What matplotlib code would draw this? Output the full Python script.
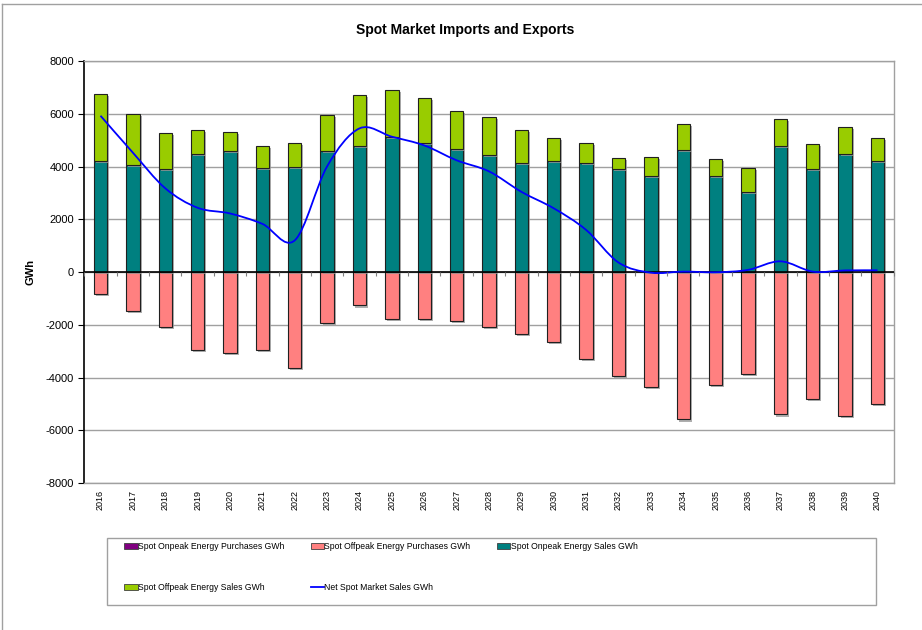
import numpy as np
import matplotlib
matplotlib.use('Agg')
import matplotlib.pyplot as plt
from matplotlib.path import Path
from matplotlib.patches import PathPatch, Rectangle
from matplotlib.lines import Line2D
import matplotlib.patheffects as pe

plt.rcParams['font.family'] = ['Liberation Sans', 'DejaVu Sans']
plt.rcParams['axes.unicode_minus'] = False

years = [str(y) for y in range(2016, 2041)]
onpeak_purchases = [0] * 25
offpeak_purchases = [-825, -1460, -2090, -2940, -3080, -2955, -3625, -1940, -1270, -1765,
                     -1790, -1865, -2080, -2360, -2660, -3285, -3955, -4375, -5590, -4300,
                     -3855, -5400, -4830, -5455, -5020]
onpeak_sales = [4200, 4050, 3920, 4465, 4580, 3935, 3970, 4580, 4795, 5110,
                4880, 4670, 4430, 4150, 4225, 4125, 3920, 3630, 4630, 3655,
                3025, 4770, 3920, 4465, 4200]
offpeak_sales = [2550, 1935, 1345, 910, 720, 845, 910, 1365, 1920, 1785,
                 1710, 1430, 1465, 1250, 850, 755, 395, 720, 975, 635,
                 910, 1035, 925, 1050, 885]
net_sales = [5925, 4525, 3175, 2435, 2220, 1825, 1200, 4005, 5445, 5130,
             4800, 4235, 3815, 3040, 2415, 1595, 360, -25, 15, -10,
             80, 405, 15, 60, 65]

c_purple = '#800080'
c_salmon = '#FF8080'
c_teal = '#008080'
c_green = '#99CC00'
c_blue = '#0000FF'

fig = plt.figure(figsize=(9.22, 6.30), dpi=100)
ax = fig.add_axes([84.3 / 922, 1 - 483 / 630, (893.7 - 84.3) / 922, (483 - 61) / 630])

x = np.arange(len(years))
w = 0.41
shadow = [pe.SimplePatchShadow(offset=(1.5, -1.5), shadow_rgbFace='#9a9a9a', alpha=0.8), pe.Normal()]
edge = dict(edgecolor='#202020', linewidth=0.8, zorder=3)

ax.bar(x, onpeak_purchases, w, color=c_purple, **edge)
b1 = ax.bar(x, offpeak_purchases, w, color=c_salmon, **edge)
b2 = ax.bar(x, onpeak_sales, w, color=c_teal, **edge)
b3 = ax.bar(x, offpeak_sales, w, bottom=onpeak_sales, color=c_green, **edge)
for cont in (b1, b2, b3):
    for p in cont:
        p.set_path_effects(shadow)

# smoothed line (Excel-style), Catmull-Rom through the data points
pts = np.column_stack([x, net_sales]).astype(float)
ext = np.vstack([pts[0], pts, pts[-1]])
verts = [pts[0]]
codes = [Path.MOVETO]
for i in range(1, len(ext) - 2):
    p0, p1, p2, p3 = ext[i - 1], ext[i], ext[i + 1], ext[i + 2]
    verts += [p1 + (p2 - p0) / 6, p2 - (p3 - p1) / 6, p2]
    codes += [Path.CURVE4] * 3
ax.add_patch(PathPatch(Path(verts, codes), facecolor='none', edgecolor=c_blue,
                       linewidth=1.3, zorder=5))

ax.set_xlim(-0.5, len(years) - 0.5)
ax.set_ylim(-8000, 8000)
ax.set_yticks(range(-8000, 8001, 2000))
ax.yaxis.grid(True, color='#a0a0a0', linewidth=1)
ax.set_axisbelow(True)
ax.axhline(0, color='black', linewidth=1.2, zorder=4)
ax.set_xticks(x)
ax.set_xticklabels(years, rotation=90, fontsize=6.5)
ax.tick_params(axis='x', length=0, pad=5)
ax.tick_params(axis='y', labelsize=8, length=4, color='black')
for s in ('top', 'right', 'bottom'):
    ax.spines[s].set_color('#a0a0a0')
    ax.spines[s].set_linewidth(1)
ax.spines['left'].set_color('black')
ax.spines['left'].set_linewidth(1.2)
ax.set_ylabel('GWh', fontsize=8, fontweight='bold', labelpad=7)

# category ticks on the zero line
ax2 = ax.twiny()
ax2.set_xlim(ax.get_xlim())
ax2.xaxis.set_ticks_position('bottom')
ax2.spines['bottom'].set_position(('data', 0))
ax2.set_xticks(np.arange(-0.5, len(years), 1))
ax2.set_xticklabels([])
ax2.tick_params(axis='x', length=3, color='#808080', direction='out')
for s in ax2.spines.values():
    s.set_visible(False)

fig.text(0.504, 1 - 30 / 630, 'Spot Market Imports and Exports', ha='center', va='center',
         fontsize=10, fontweight='bold')

# outer chart border (left and top visible)
fig.add_artist(Line2D([2 / 922, 2 / 922], [0, 1 - 4 / 630], color='#a0a0a0', linewidth=1))
fig.add_artist(Line2D([2 / 922, 1], [1 - 4 / 630, 1 - 4 / 630], color='#a0a0a0', linewidth=1))

# legend box
fig.add_artist(Rectangle((106.7 / 922, 1 - 605 / 630), (876 - 106.7) / 922, 67 / 630,
                         transform=fig.transFigure, facecolor='white', edgecolor='#a0a0a0',
                         linewidth=1))
handles = [
    Rectangle((0, 0), 1, 1, facecolor=c_purple, edgecolor='#404040', linewidth=0.6),
    Rectangle((0, 0), 1, 1, facecolor=c_salmon, edgecolor='#404040', linewidth=0.6),
    Rectangle((0, 0), 1, 1, facecolor=c_teal, edgecolor='#404040', linewidth=0.6),
    Rectangle((0, 0), 1, 1, facecolor=c_green, edgecolor='#404040', linewidth=0.6),
    Line2D([0], [0], color=c_blue, linewidth=1.3),
]
labels = ['Spot Onpeak Energy Purchases GWh', 'Spot Offpeak Energy Purchases GWh',
          'Spot Onpeak Energy Sales GWh', 'Spot Offpeak Energy Sales GWh',
          'Net Spot Market Sales GWh']
order = [0, 3, 1, 4, 2]  # legend fills by column; this gives row-wise order
fig.legend([handles[i] for i in order], [labels[i] for i in order], ncol=3, loc='upper left',
           bbox_to_anchor=(120 / 922, 1 - 538 / 630), frameon=False, fontsize=6.2,
           borderpad=0, handlelength=1.55, handleheight=0.75, handletextpad=0.05,
           columnspacing=3.05, labelspacing=3.7)

fig.savefig('out.png', dpi=100)
